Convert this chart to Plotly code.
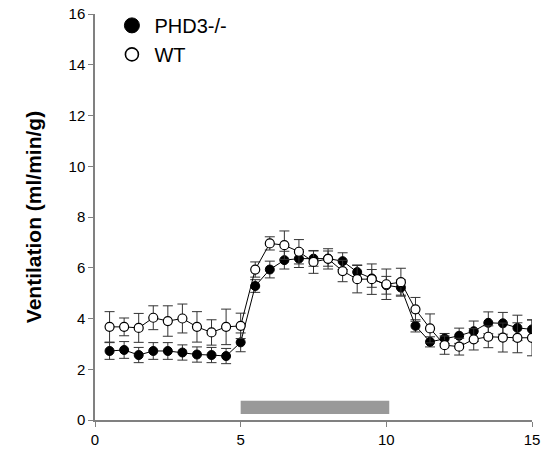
import plotly.graph_objects as go

time_min = [0.5, 1.0, 1.5, 2.0, 2.5, 3.0, 3.5, 4.0, 4.5, 5.0,
            5.5, 6.0, 6.5, 7.0, 7.5, 8.0, 8.5, 9.0, 9.5, 10.0,
            10.5, 11.0, 11.5, 12.0, 12.5, 13.0, 13.5, 14.0, 14.5, 15.0]

phd3_ko = [2.72, 2.76, 2.56, 2.72, 2.72, 2.66, 2.58, 2.56, 2.52, 3.06,
           5.28, 5.93, 6.30, 6.36, 6.36, 6.36, 6.26, 5.83, 5.58, 5.31,
           5.22, 3.71, 3.08, 3.21, 3.32, 3.50, 3.83, 3.81, 3.63, 3.57]
phd3_ko_err = [0.33, 0.33, 0.30, 0.33, 0.33, 0.30, 0.30, 0.30, 0.30, 0.37,
               0.25, 0.33, 0.35, 0.35, 0.30, 0.30, 0.33, 0.28, 0.35, 0.35,
               0.30, 0.24, 0.20, 0.20, 0.30, 0.40, 0.43, 0.43, 0.50, 0.37]

wt = [3.67, 3.67, 3.63, 4.03, 3.90, 4.00, 3.67, 3.45, 3.67, 3.71,
      5.93, 6.96, 6.89, 6.63, 6.23, 6.35, 5.87, 5.55, 5.55, 5.35,
      5.43, 4.36, 3.61, 2.95, 2.89, 3.18, 3.28, 3.25, 3.24, 3.24]
wt_err = [0.60, 0.35, 0.57, 0.47, 0.60, 0.57, 0.60, 0.50, 0.70, 0.50,
          0.30, 0.26, 0.56, 0.48, 0.45, 0.40, 0.42, 0.54, 0.60, 0.60,
          0.55, 0.47, 0.57, 0.36, 0.33, 0.42, 0.43, 0.57, 0.59, 0.71]

hypoxia_period = [5.0, 10.1]

x_ticks = [0, 5, 10, 15]
y_ticks = [0, 2, 4, 6, 8, 10, 12, 14, 16]

FONT = "Liberation Sans, Arial, sans-serif"

fig = go.Figure()

# data traces (legend handled by marker-only entries below)
fig.add_trace(go.Scatter(
    x=time_min, y=phd3_ko, name="PHD3-/-", mode="lines+markers",
    showlegend=False,
    line=dict(color="black", width=1),
    marker=dict(symbol="circle", size=9, color="black",
                line=dict(color="black", width=1)),
    error_y=dict(type="data", array=phd3_ko_err, visible=True,
                 color="#333333", thickness=1, width=5),
))
fig.add_trace(go.Scatter(
    x=time_min, y=wt, name="WT", mode="lines+markers",
    showlegend=False,
    line=dict(color="black", width=1),
    marker=dict(symbol="circle", size=9, color="white",
                line=dict(color="black", width=1.2)),
    error_y=dict(type="data", array=wt_err, visible=True,
                 color="#333333", thickness=1, width=5),
))

# legend entries: markers only
fig.add_trace(go.Scatter(
    x=[None], y=[None], name="PHD3-/-", mode="markers", legendgroup="a",
    marker=dict(symbol="circle", size=15, color="black",
                line=dict(color="black", width=1)),
))
fig.add_trace(go.Scatter(
    x=[None], y=[None], name="WT", mode="markers", legendgroup="b",
    marker=dict(symbol="circle", size=13, color="white",
                line=dict(color="black", width=1.6)),
))

fig.add_shape(type="rect", xref="x", yref="y",
              x0=hypoxia_period[0], x1=hypoxia_period[1], y0=0.24, y1=0.76,
              fillcolor="#999999", line=dict(width=0), layer="below")

fig.update_layout(
    width=559, height=456,
    margin=dict(l=95, r=27, t=14, b=36, autoexpand=False),
    plot_bgcolor="white", paper_bgcolor="white",
    font=dict(family=FONT, size=15, color="black"),
    showlegend=True,
    legend=dict(x=0.033, y=1.02, xanchor="left", yanchor="top",
                font=dict(family=FONT, size=20, color="black"),
                tracegroupgap=0, bgcolor="rgba(0,0,0,0)",
                itemwidth=35),
    xaxis=dict(range=[0, 15], tickvals=x_ticks, ticks="outside", ticklen=5,
               tickcolor="#808080", showline=True, linecolor="#808080",
               linewidth=1.5, showgrid=False, zeroline=False,
               tickfont=dict(size=15)),
    yaxis=dict(range=[0, 16], tickvals=y_ticks, ticks="outside", ticklen=5,
               tickcolor="#808080", showline=True, linecolor="#808080",
               linewidth=1.5, showgrid=False, zeroline=False,
               tickfont=dict(size=15),
               title=dict(text="<b>Ventilation (ml/min/g)</b>",
                          font=dict(size=21), standoff=21)),
)

fig.write_html("out.html",
               config={"displayModeBar": False},
               post_script="document.body.style.margin='0px';")
